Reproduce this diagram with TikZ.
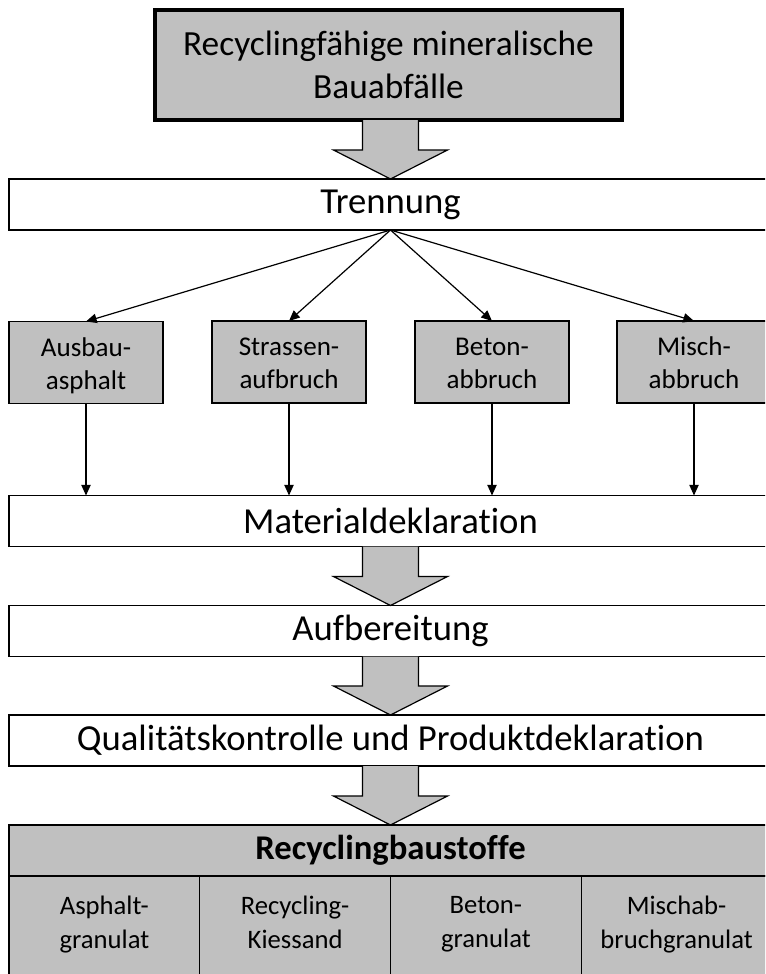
\documentclass[tikz,border=0pt]{standalone}
\usepackage{fontspec}
\setmainfont{Carlito}[Ligatures={NoCommon}]
\usetikzlibrary{arrows.meta,calc}
\definecolor{boxgray}{HTML}{C0C0C0}
\tikzset{
  base/.style={draw=black, line width=0.9pt, inner sep=0pt, outer sep=0pt, align=center},
  struts/.style={execute at begin node=\strut, execute at end node=\strut},
  txt/.style={inner sep=0pt, align=center, struts, yshift=-4.5pt},
  wide/.style={base, fill=white, minimum width=763*0.75pt, minimum height=51*0.75pt, font=\fontsize{27.5}{33}\selectfont},
  titlebox/.style={base, fill=boxgray, line width=2.3pt, minimum width=467*0.75pt, minimum height=110*0.75pt},
  titletext/.style={txt, font=\fontsize{26.5}{31.7}\selectfont},
  matbox/.style={base, fill=boxgray, minimum width=154*0.75pt, minimum height=82*0.75pt},
  mattext/.style={txt, font=\fontsize{20.3}{24.7}\selectfont},
  headbox/.style={base, fill=boxgray, minimum width=763*0.75pt, minimum height=51*0.75pt, font=\fontsize{26}{31.7}\selectfont\bfseries},
  cellbox/.style={base, struts, fill=boxgray, minimum width=190.75*0.75pt, minimum height=102*0.75pt, font=\fontsize{20}{25.5}\selectfont},
  thinarrow/.style={draw=black, line width=0.9pt, -{Triangle[length=8pt,width=7pt]}},
  blockarrow/.style={fill=boxgray, draw=black, line width=0.9pt, line join=miter}
}
\newcommand{\blockarr}[2]{%
  \path[blockarrow] ($(#1.south -| #2.north)+(-28,0)$) -- ($(#2.north)+(-28,-29)$) -- ($(#2.north)+(-57,-29)$) -- (#2.north) -- ($(#2.north)+(57,-29)$) -- ($(#2.north)+(28,-29)$) -- ($(#1.south -| #2.north)+(28,0)$);}
\begin{document}
\begin{tikzpicture}[x=0.75pt,y=-0.75pt]
\useasboundingbox (0,0) rectangle (765,974);
\fill[white] (0,0) rectangle (765,974);
\clip (0,0) rectangle (765,974);

\node[titlebox] (top) at (388.5,65) {};
\node[titletext] (toptext) at (top.center) {Recyclingfähige mineralische\\Bauabfälle};
\node[wide] (trenn) at (390.5,204.5) {Trennung};

\node[matbox] (b1) at (86,362.5) {};
\node[matbox] (b2) at (289,362) {};
\node[matbox] (b3) at (492,362) {};
\node[matbox] (b4) at (694,362) {};
\node[mattext] (t1) at (b1.center) {Ausbau-\\asphalt};
\node[mattext] (t2) at (b2.center) {Strassen-\\aufbruch};
\node[mattext] (t3) at (b3.center) {Beton-\\abbruch};
\node[mattext] (t4) at (b4.center) {Misch-\\abbruch};

\node[wide] (mat) at (390.5,521) {Materialdeklaration};
\node[wide] (auf) at (390.5,631) {Aufbereitung};
\node[wide] (qual) at (390.5,740.5) {Qualitätskontrolle und Produktdeklaration};

\node[headbox] (head) at (390.5,850.5) {Recyclingbaustoffe};
\node[cellbox, anchor=north west] (c1) at (9,876) {Asphalt-\\granulat};
\node[cellbox, anchor=north west] (c2) at (c1.north east) {Recycling-\\Kiessand};
\node[cellbox, anchor=north west] (c3) at (c2.north east) {Beton-\\granulat};
\node[cellbox, anchor=north west] (c4) at (c3.north east) {Mischab-\\bruchgranulat};

\blockarr{top}{trenn}
\blockarr{mat}{auf}
\blockarr{auf}{qual}
\blockarr{qual}{head}

\foreach \b in {b1,b2,b3,b4}{
  \draw[thinarrow] (trenn.south) -- (\b.north);
  \draw[thinarrow] (\b.south) -- (\b.south |- mat.north);
}
\end{tikzpicture}
\end{document}
